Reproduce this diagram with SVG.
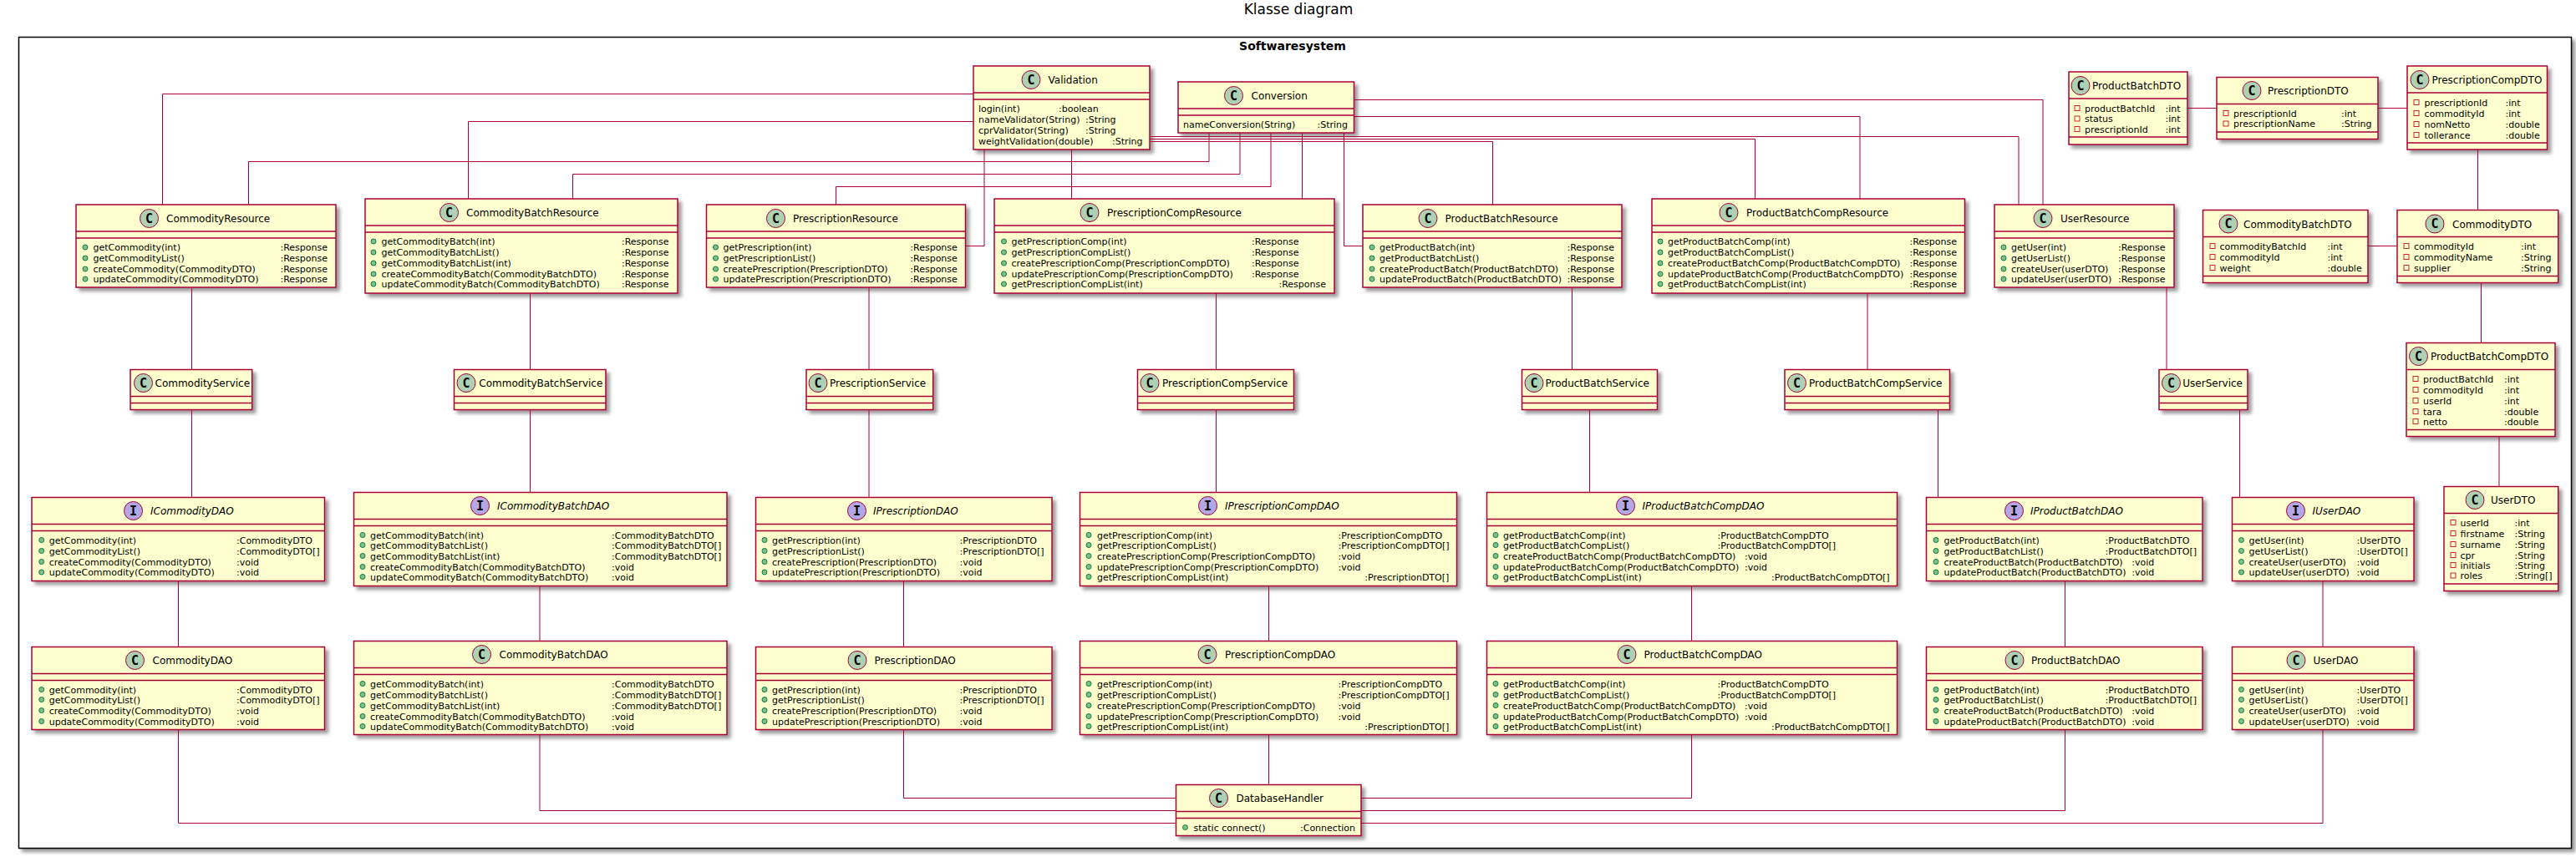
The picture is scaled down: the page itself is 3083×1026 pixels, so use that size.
<svg xmlns="http://www.w3.org/2000/svg" width="3083" height="1026" viewBox="0 0 3083 1026">
<style>
text{font-family:"DejaVu Sans",sans-serif;fill:#000}
.m{font-size:11px}
.n{font-size:12px}
.i{font-style:italic}
.k{font-family:"DejaVu Sans Mono",monospace;font-size:15px;font-weight:bold;text-anchor:middle}
.b{fill:#FEFECE;stroke:#A80036;stroke-width:1.5;filter:url(#s)}
.l{stroke:#A80036;stroke-width:1.5}
.cc{fill:#ADD1B2;stroke:#A80036;stroke-width:1}
.ci{fill:#B4A7E5;stroke:#A80036;stroke-width:1}
.g{fill:#84BE84;stroke:#038048;stroke-width:1}
.r{fill:none;stroke:#C82930;stroke-width:1}
#connectors path{fill:none;stroke:#A80036;stroke-width:1}
</style>
<defs>
<filter id="s" x="-5%" y="-5%" width="115%" height="120%"><feGaussianBlur in="SourceAlpha" stdDeviation="2"/><feOffset dx="4" dy="4"/><feComponentTransfer><feFuncA type="linear" slope="0.4"/></feComponentTransfer><feMerge><feMergeNode/><feMergeNode in="SourceGraphic"/></feMerge></filter>
<circle id="cg" r="11" class="cc"/>
<circle id="ig" r="11" class="ci"/>
<circle id="pub" r="3" class="g"/>
<rect id="pri" x="-3" y="-3" width="6" height="6" class="r"/>
</defs>
<rect width="3083" height="1026" fill="#fff"/>
<text x="1554" y="17" font-size="17" text-anchor="middle">Klasse diagram</text>
<g id="frame">
<rect x="22.5" y="44.5" width="3055" height="971" fill="#fff" stroke="#000" stroke-width="1.5" filter="url(#s)"/>
<text x="1547" y="60" font-size="14" font-weight="bold" text-anchor="middle">Softwaresystem</text>
</g>

<g id="Validation">
<rect class="b" x="1165" y="79" width="211" height="100"/><path class="l" d="M1165 111H1376M1165 119H1376"/>
<use href="#cg" x="1234" y="95.5"/><text class="k" x="1234" y="100.5">C</text><text class="n" x="1254.5" y="100">Validation</text>
<text class="m" y="134"><tspan x="1171">login(int)</tspan><tspan x="1267">:boolean</tspan></text>
<text class="m" y="147"><tspan x="1171">nameValidator(String)</tspan><tspan x="1299">:String</tspan></text>
<text class="m" y="160"><tspan x="1171">cprValidator(String)</tspan><tspan x="1299">:String</tspan></text>
<text class="m" y="173"><tspan x="1171">weightValidation(double)</tspan><tspan x="1331">:String</tspan></text>
</g>
<g id="Conversion">
<rect class="b" x="1410" y="98" width="210.5" height="61"/><path class="l" d="M1410 130H1620.5M1410 138H1620.5"/>
<use href="#cg" x="1476.5" y="114.5"/><text class="k" x="1476.5" y="119.5">C</text><text class="n" x="1497.5" y="119">Conversion</text>
<text class="m" y="153"><tspan x="1416">nameConversion(String)</tspan><tspan x="1576.5">:String</tspan></text>
</g>

<g id="CommodityResource">
<rect class="b" x="91" y="245" width="311" height="99"/><path class="l" d="M91 277H402M91 285H402"/>
<use href="#cg" x="178.5" y="261.5"/><text class="k" x="178.5" y="266.5">C</text><text class="n" x="199" y="266">CommodityResource</text>
<use href="#pub" x="102" y="296"/><text class="m" y="300"><tspan x="111.5">getCommodity(int)</tspan><tspan x="335.5">:Response</tspan></text>
<use href="#pub" x="102" y="309"/><text class="m" y="313"><tspan x="111.5">getCommodityList()</tspan><tspan x="335.5">:Response</tspan></text>
<use href="#pub" x="102" y="322"/><text class="m" y="326"><tspan x="111.5">createCommodity(CommodityDTO)</tspan><tspan x="335.5">:Response</tspan></text>
<use href="#pub" x="102" y="334"/><text class="m" y="338"><tspan x="111.5">updateCommodity(CommodityDTO)</tspan><tspan x="335.5">:Response</tspan></text>
</g>
<g id="CommodityBatchResource">
<rect class="b" x="437" y="238" width="374" height="113"/><path class="l" d="M437 270H811M437 278H811"/>
<use href="#cg" x="537.5" y="254.5"/><text class="k" x="537.5" y="259.5">C</text><text class="n" x="558" y="259">CommodityBatchResource</text>
<use href="#pub" x="447" y="289"/><text class="m" y="293"><tspan x="456.5">getCommodityBatch(int)</tspan><tspan x="744">:Response</tspan></text>
<use href="#pub" x="447" y="302"/><text class="m" y="306"><tspan x="456.5">getCommodityBatchList()</tspan><tspan x="744">:Response</tspan></text>
<use href="#pub" x="447" y="315"/><text class="m" y="319"><tspan x="456.5">getCommodityBatchList(int)</tspan><tspan x="744">:Response</tspan></text>
<use href="#pub" x="447" y="328"/><text class="m" y="332"><tspan x="456.5">createCommodityBatch(CommodityBatchDTO)</tspan><tspan x="744">:Response</tspan></text>
<use href="#pub" x="447" y="340"/><text class="m" y="344"><tspan x="456.5">updateCommodityBatch(CommodityBatchDTO)</tspan><tspan x="744">:Response</tspan></text>
</g>
<g id="PrescriptionResource">
<rect class="b" x="845.5" y="245" width="310" height="99"/><path class="l" d="M845.5 277H1155.5M845.5 285H1155.5"/>
<use href="#cg" x="928.5" y="261.5"/><text class="k" x="928.5" y="266.5">C</text><text class="n" x="949" y="266">PrescriptionResource</text>
<use href="#pub" x="856.5" y="296"/><text class="m" y="300"><tspan x="865.5">getPrescription(int)</tspan><tspan x="1089.3">:Response</tspan></text>
<use href="#pub" x="856.5" y="309"/><text class="m" y="313"><tspan x="865.5">getPrescriptionList()</tspan><tspan x="1089.3">:Response</tspan></text>
<use href="#pub" x="856.5" y="322"/><text class="m" y="326"><tspan x="865.5">createPrescription(PrescriptionDTO)</tspan><tspan x="1089.3">:Response</tspan></text>
<use href="#pub" x="856.5" y="334"/><text class="m" y="338"><tspan x="865.5">updatePrescription(PrescriptionDTO)</tspan><tspan x="1089.3">:Response</tspan></text>
</g>
<g id="PrescriptionCompResource">
<rect class="b" x="1190" y="238" width="407" height="113"/><path class="l" d="M1190 270H1597M1190 278H1597"/>
<use href="#cg" x="1304" y="254.5"/><text class="k" x="1304" y="259.5">C</text><text class="n" x="1325" y="259">PrescriptionCompResource</text>
<use href="#pub" x="1201.5" y="289"/><text class="m" y="293"><tspan x="1210.5">getPrescriptionComp(int)</tspan><tspan x="1498">:Response</tspan></text>
<use href="#pub" x="1201.5" y="302"/><text class="m" y="306"><tspan x="1210.5">getPrescriptionCompList()</tspan><tspan x="1498">:Response</tspan></text>
<use href="#pub" x="1201.5" y="315"/><text class="m" y="319"><tspan x="1210.5">createPrescriptionComp(PrescriptionCompDTO)</tspan><tspan x="1498">:Response</tspan></text>
<use href="#pub" x="1201.5" y="328"/><text class="m" y="332"><tspan x="1210.5">updatePrescriptionComp(PrescriptionCompDTO)</tspan><tspan x="1498">:Response</tspan></text>
<use href="#pub" x="1201.5" y="340"/><text class="m" y="344"><tspan x="1210.5">getPrescriptionCompList(int)</tspan><tspan x="1530.5">:Response</tspan></text>
</g>
<g id="ProductBatchResource">
<rect class="b" x="1631" y="245" width="310" height="99"/><path class="l" d="M1631 277H1941M1631 285H1941"/>
<use href="#cg" x="1709" y="261.5"/><text class="k" x="1709" y="266.5">C</text><text class="n" x="1729.5" y="266">ProductBatchResource</text>
<use href="#pub" x="1642" y="296"/><text class="m" y="300"><tspan x="1651">getProductBatch(int)</tspan><tspan x="1875.5">:Response</tspan></text>
<use href="#pub" x="1642" y="309"/><text class="m" y="313"><tspan x="1651">getProductBatchList()</tspan><tspan x="1875.5">:Response</tspan></text>
<use href="#pub" x="1642" y="322"/><text class="m" y="326"><tspan x="1651">createProductBatch(ProductBatchDTO)</tspan><tspan x="1875.5">:Response</tspan></text>
<use href="#pub" x="1642" y="334"/><text class="m" y="338"><tspan x="1651">updateProductBatch(ProductBatchDTO)</tspan><tspan x="1875.5">:Response</tspan></text>
</g>
<g id="ProductBatchCompResource">
<rect class="b" x="1977" y="238" width="374.5" height="113"/><path class="l" d="M1977 270H2351.5M1977 278H2351.5"/>
<use href="#cg" x="2069" y="254.5"/><text class="k" x="2069" y="259.5">C</text><text class="n" x="2090" y="259">ProductBatchCompResource</text>
<use href="#pub" x="1987" y="289"/><text class="m" y="293"><tspan x="1996">getProductBatchComp(int)</tspan><tspan x="2285.5">:Response</tspan></text>
<use href="#pub" x="1987" y="302"/><text class="m" y="306"><tspan x="1996">getProductBatchCompList()</tspan><tspan x="2285.5">:Response</tspan></text>
<use href="#pub" x="1987" y="315"/><text class="m" y="319"><tspan x="1996">createProductBatchComp(ProductBatchCompDTO)</tspan><tspan x="2285.5">:Response</tspan></text>
<use href="#pub" x="1987" y="328"/><text class="m" y="332"><tspan x="1996">updateProductBatchComp(ProductBatchCompDTO)</tspan><tspan x="2285.5">:Response</tspan></text>
<use href="#pub" x="1987" y="340"/><text class="m" y="344"><tspan x="1996">getProductBatchCompList(int)</tspan><tspan x="2285.5">:Response</tspan></text>
</g>
<g id="UserResource">
<rect class="b" x="2387" y="245" width="215" height="99"/><path class="l" d="M2387 277H2602M2387 285H2602"/>
<use href="#cg" x="2445" y="261.5"/><text class="k" x="2445" y="266.5">C</text><text class="n" x="2466" y="266">UserResource</text>
<use href="#pub" x="2398" y="296"/><text class="m" y="300"><tspan x="2407">getUser(int)</tspan><tspan x="2535">:Response</tspan></text>
<use href="#pub" x="2398" y="309"/><text class="m" y="313"><tspan x="2407">getUserList()</tspan><tspan x="2535">:Response</tspan></text>
<use href="#pub" x="2398" y="322"/><text class="m" y="326"><tspan x="2407">createUser(userDTO)</tspan><tspan x="2535">:Response</tspan></text>
<use href="#pub" x="2398" y="334"/><text class="m" y="338"><tspan x="2407">updateUser(userDTO)</tspan><tspan x="2535">:Response</tspan></text>
</g>

<g id="ProductBatchDTO">
<rect class="b" x="2476" y="86" width="142" height="87"/><path class="l" d="M2476 118H2618M2476 164H2618"/>
<use href="#cg" x="2490" y="102.5"/><text class="k" x="2490" y="107.5">C</text><text class="n" x="2504" y="107">ProductBatchDTO</text>
<use href="#pri" x="2486" y="129.5"/><text class="m" y="133.5"><tspan x="2495">productBatchId</tspan><tspan x="2591.5">:int</tspan></text>
<use href="#pri" x="2486" y="142"/><text class="m" y="146"><tspan x="2495">status</tspan><tspan x="2591.5">:int</tspan></text>
<use href="#pri" x="2486" y="154.5"/><text class="m" y="158.5"><tspan x="2495">prescriptionId</tspan><tspan x="2591.5">:int</tspan></text>
</g>
<g id="PrescriptionDTO">
<rect class="b" x="2653" y="92.5" width="193" height="74"/><path class="l" d="M2653 124.5H2846M2653 158H2846"/>
<use href="#cg" x="2695" y="108.5"/><text class="k" x="2695" y="113.5">C</text><text class="n" x="2714" y="113">PrescriptionDTO</text>
<use href="#pri" x="2664" y="135.5"/><text class="m" y="139.5"><tspan x="2673">prescriptionId</tspan><tspan x="2802">:int</tspan></text>
<use href="#pri" x="2664" y="148"/><text class="m" y="152"><tspan x="2673">prescriptionName</tspan><tspan x="2802">:String</tspan></text>
</g>
<g id="PrescriptionCompDTO">
<rect class="b" x="2881" y="79" width="167.5" height="100"/><path class="l" d="M2881 111H3048.5M2881 171H3048.5"/>
<use href="#cg" x="2896" y="95.5"/><text class="k" x="2896" y="100.5">C</text><text class="n" x="2910.5" y="100">PrescriptionCompDTO</text>
<use href="#pri" x="2892" y="122.5"/><text class="m" y="126.5"><tspan x="2901.5">prescriptionId</tspan><tspan x="2998.5">:int</tspan></text>
<use href="#pri" x="2892" y="135.5"/><text class="m" y="139.5"><tspan x="2901.5">commodityId</tspan><tspan x="2998.5">:int</tspan></text>
<use href="#pri" x="2892" y="148.5"/><text class="m" y="152.5"><tspan x="2901.5">nomNetto</tspan><tspan x="2998.5">:double</tspan></text>
<use href="#pri" x="2892" y="161.5"/><text class="m" y="165.5"><tspan x="2901.5">tollerance</tspan><tspan x="2998.5">:double</tspan></text>
</g>
<g id="CommodityBatchDTO">
<rect class="b" x="2636.5" y="251.5" width="197.5" height="87"/><path class="l" d="M2636.5 283.5H2834M2636.5 330.5H2834"/>
<use href="#cg" x="2667" y="268"/><text class="k" x="2667" y="273">C</text><text class="n" x="2685" y="272.5">CommodityBatchDTO</text>
<use href="#pri" x="2648" y="294.5"/><text class="m" y="298.5"><tspan x="2656.5">commodityBatchId</tspan><tspan x="2785.5">:int</tspan></text>
<use href="#pri" x="2648" y="307.5"/><text class="m" y="311.5"><tspan x="2656.5">commodityId</tspan><tspan x="2785.5">:int</tspan></text>
<use href="#pri" x="2648" y="320.5"/><text class="m" y="324.5"><tspan x="2656.5">weight</tspan><tspan x="2785.5">:double</tspan></text>
</g>
<g id="CommodityDTO">
<rect class="b" x="2869" y="251.5" width="192.7" height="87"/><path class="l" d="M2869 283.5H3061.7M2869 330.5H3061.7"/>
<use href="#cg" x="2914" y="268"/><text class="k" x="2914" y="273">C</text><text class="n" x="2935" y="272.5">CommodityDTO</text>
<use href="#pri" x="2880" y="294.5"/><text class="m" y="298.5"><tspan x="2889">commodityId</tspan><tspan x="3017">:int</tspan></text>
<use href="#pri" x="2880" y="307.5"/><text class="m" y="311.5"><tspan x="2889">commodityName</tspan><tspan x="3017">:String</tspan></text>
<use href="#pri" x="2880" y="320.5"/><text class="m" y="324.5"><tspan x="2889">supplier</tspan><tspan x="3017">:String</tspan></text>
</g>
<g id="ProductBatchCompDTO">
<rect class="b" x="2880" y="410.5" width="178" height="112"/><path class="l" d="M2880 442.5H3058M2880 514.5H3058"/>
<use href="#cg" x="2894.5" y="426.5"/><text class="k" x="2894.5" y="431.5">C</text><text class="n" x="2909" y="431">ProductBatchCompDTO</text>
<use href="#pri" x="2891" y="453.5"/><text class="m" y="457.5"><tspan x="2900">productBatchId</tspan><tspan x="2997">:int</tspan></text>
<use href="#pri" x="2891" y="466.5"/><text class="m" y="470.5"><tspan x="2900">commodityId</tspan><tspan x="2997">:int</tspan></text>
<use href="#pri" x="2891" y="479.5"/><text class="m" y="483.5"><tspan x="2900">userId</tspan><tspan x="2997">:int</tspan></text>
<use href="#pri" x="2891" y="492.5"/><text class="m" y="496.5"><tspan x="2900">tara</tspan><tspan x="2997">:double</tspan></text>
<use href="#pri" x="2891" y="504.5"/><text class="m" y="508.5"><tspan x="2900">netto</tspan><tspan x="2997">:double</tspan></text>
</g>
<g id="UserDTO">
<rect class="b" x="2925" y="582.5" width="136.7" height="125"/><path class="l" d="M2925 614.5H3061.7M2925 699H3061.7"/>
<use href="#cg" x="2962" y="598.5"/><text class="k" x="2962" y="603.5">C</text><text class="n" x="2981" y="603">UserDTO</text>
<use href="#pri" x="2936" y="625.5"/><text class="m" y="629.5"><tspan x="2944.5">userId</tspan><tspan x="3009.5">:int</tspan></text>
<use href="#pri" x="2936" y="638.5"/><text class="m" y="642.5"><tspan x="2944.5">firstname</tspan><tspan x="3009.5">:String</tspan></text>
<use href="#pri" x="2936" y="651.5"/><text class="m" y="655.5"><tspan x="2944.5">surname</tspan><tspan x="3009.5">:String</tspan></text>
<use href="#pri" x="2936" y="664.5"/><text class="m" y="668.5"><tspan x="2944.5">cpr</tspan><tspan x="3009.5">:String</tspan></text>
<use href="#pri" x="2936" y="676.5"/><text class="m" y="680.5"><tspan x="2944.5">initials</tspan><tspan x="3009.5">:String</tspan></text>
<use href="#pri" x="2936" y="689"/><text class="m" y="693"><tspan x="2944.5">roles</tspan><tspan x="3009.5">:String[]</tspan></text>
</g>

<g id="CommodityService"><rect class="b" x="156" y="442.5" width="145.7" height="48"/><path class="l" d="M156 474.5H301.7M156 482.5H301.7"/><use href="#cg" x="171.5" y="458.5"/><text class="k" x="171.5" y="463.5">C</text><text class="n" x="185.5" y="463">CommodityService</text></g>
<g id="CommodityBatchService"><rect class="b" x="543.5" y="442.5" width="181.5" height="48"/><path class="l" d="M543.5 474.5H725M543.5 482.5H725"/><use href="#cg" x="558" y="458.5"/><text class="k" x="558" y="463.5">C</text><text class="n" x="573.3" y="463">CommodityBatchService</text></g>
<g id="PrescriptionService"><rect class="b" x="965" y="442.5" width="151.7" height="48"/><path class="l" d="M965 474.5H1116.7M965 482.5H1116.7"/><use href="#cg" x="979" y="458.5"/><text class="k" x="979" y="463.5">C</text><text class="n" x="993" y="463">PrescriptionService</text></g>
<g id="PrescriptionCompService"><rect class="b" x="1361.5" y="442.5" width="187" height="48"/><path class="l" d="M1361.5 474.5H1548.5M1361.5 482.5H1548.5"/><use href="#cg" x="1376" y="458.5"/><text class="k" x="1376" y="463.5">C</text><text class="n" x="1391" y="463">PrescriptionCompService</text></g>
<g id="ProductBatchService"><rect class="b" x="1821.5" y="442.5" width="162" height="48"/><path class="l" d="M1821.5 474.5H1983.5M1821.5 482.5H1983.5"/><use href="#cg" x="1836" y="458.5"/><text class="k" x="1836" y="463.5">C</text><text class="n" x="1849.5" y="463">ProductBatchService</text></g>
<g id="ProductBatchCompService"><rect class="b" x="2136" y="442.5" width="197.5" height="48"/><path class="l" d="M2136 474.5H2333.5M2136 482.5H2333.5"/><use href="#cg" x="2150.5" y="458.5"/><text class="k" x="2150.5" y="463.5">C</text><text class="n" x="2165" y="463">ProductBatchCompService</text></g>
<g id="UserService"><rect class="b" x="2584" y="442.5" width="106" height="48"/><path class="l" d="M2584 474.5H2690M2584 482.5H2690"/><use href="#cg" x="2598.5" y="458.5"/><text class="k" x="2598.5" y="463.5">C</text><text class="n" x="2612.3" y="463">UserService</text></g>

<g id="ICommodityDAO">
<rect class="b" x="38" y="595.5" width="350.5" height="100"/><path class="l" d="M38 627.5H388.5M38 635.5H388.5"/>
<use href="#ig" x="159.5" y="611.5"/><text class="k" x="159.5" y="616.5">I</text><text class="n i" x="180" y="616">ICommodityDAO</text>
<use href="#pub" x="49.7" y="646.5"/><text class="m" y="650.5"><tspan x="58.7">getCommodity(int)</tspan><tspan x="283">:CommodityDTO</tspan></text>
<use href="#pub" x="49.7" y="659.5"/><text class="m" y="663.5"><tspan x="58.7">getCommodityList()</tspan><tspan x="283">:CommodityDTO[]</tspan></text>
<use href="#pub" x="49.7" y="672.5"/><text class="m" y="676.5"><tspan x="58.7">createCommodity(CommodityDTO)</tspan><tspan x="283">:void</tspan></text>
<use href="#pub" x="49.7" y="685"/><text class="m" y="689"><tspan x="58.7">updateCommodity(CommodityDTO)</tspan><tspan x="283">:void</tspan></text>
</g>
<g id="ICommodityBatchDAO">
<rect class="b" x="423.5" y="589.5" width="446.5" height="112"/><path class="l" d="M423.5 621.5H870M423.5 629.5H870"/>
<use href="#ig" x="574.5" y="605.5"/><text class="k" x="574.5" y="610.5">I</text><text class="n i" x="595" y="610">ICommodityBatchDAO</text>
<use href="#pub" x="434" y="640.5"/><text class="m" y="644.5"><tspan x="443">getCommodityBatch(int)</tspan><tspan x="732">:CommodityBatchDTO</tspan></text>
<use href="#pub" x="434" y="652.5"/><text class="m" y="656.5"><tspan x="443">getCommodityBatchList()</tspan><tspan x="732">:CommodityBatchDTO[]</tspan></text>
<use href="#pub" x="434" y="665.5"/><text class="m" y="669.5"><tspan x="443">getCommodityBatchList(int)</tspan><tspan x="732">:CommodityBatchDTO[]</tspan></text>
<use href="#pub" x="434" y="678.5"/><text class="m" y="682.5"><tspan x="443">createCommodityBatch(CommodityBatchDTO)</tspan><tspan x="732">:void</tspan></text>
<use href="#pub" x="434" y="690.5"/><text class="m" y="694.5"><tspan x="443">updateCommodityBatch(CommodityBatchDTO)</tspan><tspan x="732">:void</tspan></text>
</g>
<g id="IPrescriptionDAO">
<rect class="b" x="904.5" y="595.5" width="354.5" height="100"/><path class="l" d="M904.5 627.5H1259M904.5 635.5H1259"/>
<use href="#ig" x="1025.5" y="611.5"/><text class="k" x="1025.5" y="616.5">I</text><text class="n i" x="1045" y="616">IPrescriptionDAO</text>
<use href="#pub" x="915" y="646.5"/><text class="m" y="650.5"><tspan x="924">getPrescription(int)</tspan><tspan x="1148.5">:PrescriptionDTO</tspan></text>
<use href="#pub" x="915" y="659.5"/><text class="m" y="663.5"><tspan x="924">getPrescriptionList()</tspan><tspan x="1148.5">:PrescriptionDTO[]</tspan></text>
<use href="#pub" x="915" y="672.5"/><text class="m" y="676.5"><tspan x="924">createPrescription(PrescriptionDTO)</tspan><tspan x="1148.5">:void</tspan></text>
<use href="#pub" x="915" y="685"/><text class="m" y="689"><tspan x="924">updatePrescription(PrescriptionDTO)</tspan><tspan x="1148.5">:void</tspan></text>
</g>
<g id="IPrescriptionCompDAO">
<rect class="b" x="1292.5" y="589.5" width="451" height="112"/><path class="l" d="M1292.5 621.5H1743.5M1292.5 629.5H1743.5"/>
<use href="#ig" x="1445.5" y="605.5"/><text class="k" x="1445.5" y="610.5">I</text><text class="n i" x="1466" y="610">IPrescriptionCompDAO</text>
<use href="#pub" x="1303" y="640.5"/><text class="m" y="644.5"><tspan x="1313">getPrescriptionComp(int)</tspan><tspan x="1601.5">:PrescriptionCompDTO</tspan></text>
<use href="#pub" x="1303" y="652.5"/><text class="m" y="656.5"><tspan x="1313">getPrescriptionCompList()</tspan><tspan x="1601.5">:PrescriptionCompDTO[]</tspan></text>
<use href="#pub" x="1303" y="665.5"/><text class="m" y="669.5"><tspan x="1313">createPrescriptionComp(PrescriptionCompDTO)</tspan><tspan x="1601.5">:void</tspan></text>
<use href="#pub" x="1303" y="678.5"/><text class="m" y="682.5"><tspan x="1313">updatePrescriptionComp(PrescriptionCompDTO)</tspan><tspan x="1601.5">:void</tspan></text>
<use href="#pub" x="1303" y="690.5"/><text class="m" y="694.5"><tspan x="1313">getPrescriptionCompList(int)</tspan><tspan x="1633.3">:PrescriptionDTO[]</tspan></text>
</g>
<g id="IProductBatchCompDAO">
<rect class="b" x="1779.5" y="589.5" width="491" height="112"/><path class="l" d="M1779.5 621.5H2270.5M1779.5 629.5H2270.5"/>
<use href="#ig" x="1945.5" y="605.5"/><text class="k" x="1945.5" y="610.5">I</text><text class="n i" x="1965.5" y="610">IProductBatchCompDAO</text>
<use href="#pub" x="1790" y="640.5"/><text class="m" y="644.5"><tspan x="1799">getProductBatchComp(int)</tspan><tspan x="2055.5">:ProductBatchCompDTO</tspan></text>
<use href="#pub" x="1790" y="652.5"/><text class="m" y="656.5"><tspan x="1799">getProductBatchCompList()</tspan><tspan x="2055.5">:ProductBatchCompDTO[]</tspan></text>
<use href="#pub" x="1790" y="665.5"/><text class="m" y="669.5"><tspan x="1799">createProductBatchComp(ProductBatchCompDTO)</tspan><tspan x="2088">:void</tspan></text>
<use href="#pub" x="1790" y="678.5"/><text class="m" y="682.5"><tspan x="1799">updateProductBatchComp(ProductBatchCompDTO)</tspan><tspan x="2088">:void</tspan></text>
<use href="#pub" x="1790" y="690.5"/><text class="m" y="694.5"><tspan x="1799">getProductBatchCompList(int)</tspan><tspan x="2120">:ProductBatchCompDTO[]</tspan></text>
</g>
<g id="IProductBatchDAO">
<rect class="b" x="2305.5" y="595.5" width="330.5" height="100"/><path class="l" d="M2305.5 627.5H2636M2305.5 635.5H2636"/>
<use href="#ig" x="2410.5" y="611.5"/><text class="k" x="2410.5" y="616.5">I</text><text class="n i" x="2430" y="616">IProductBatchDAO</text>
<use href="#pub" x="2317" y="646.5"/><text class="m" y="650.5"><tspan x="2326.5">getProductBatch(int)</tspan><tspan x="2519.5">:ProductBatchDTO</tspan></text>
<use href="#pub" x="2317" y="659.5"/><text class="m" y="663.5"><tspan x="2326.5">getProductBatchList()</tspan><tspan x="2519.5">:ProductBatchDTO[]</tspan></text>
<use href="#pub" x="2317" y="672.5"/><text class="m" y="676.5"><tspan x="2326.5">createProductBatch(ProductBatchDTO)</tspan><tspan x="2551.3">:void</tspan></text>
<use href="#pub" x="2317" y="685"/><text class="m" y="689"><tspan x="2326.5">updateProductBatch(ProductBatchDTO)</tspan><tspan x="2551.3">:void</tspan></text>
</g>
<g id="IUserDAO">
<rect class="b" x="2671.5" y="595.5" width="217.5" height="100"/><path class="l" d="M2671.5 627.5H2889M2671.5 635.5H2889"/>
<use href="#ig" x="2747.5" y="611.5"/><text class="k" x="2747.5" y="616.5">I</text><text class="n i" x="2767.5" y="616">IUserDAO</text>
<use href="#pub" x="2682.5" y="646.5"/><text class="m" y="650.5"><tspan x="2691.5">getUser(int)</tspan><tspan x="2820.5">:UserDTO</tspan></text>
<use href="#pub" x="2682.5" y="659.5"/><text class="m" y="663.5"><tspan x="2691.5">getUserList()</tspan><tspan x="2820.5">:UserDTO[]</tspan></text>
<use href="#pub" x="2682.5" y="672.5"/><text class="m" y="676.5"><tspan x="2691.5">createUser(userDTO)</tspan><tspan x="2820.5">:void</tspan></text>
<use href="#pub" x="2682.5" y="685"/><text class="m" y="689"><tspan x="2691.5">updateUser(userDTO)</tspan><tspan x="2820.5">:void</tspan></text>
</g>

<g id="CommodityDAO">
<rect class="b" x="38" y="774.5" width="350.5" height="99"/><path class="l" d="M38 806.5H388.5M38 814.5H388.5"/>
<use href="#cg" x="161.5" y="790.5"/><text class="k" x="161.5" y="795.5">C</text><text class="n" x="182.5" y="795">CommodityDAO</text>
<use href="#pub" x="49.7" y="825.5"/><text class="m" y="829.5"><tspan x="58.7">getCommodity(int)</tspan><tspan x="283">:CommodityDTO</tspan></text>
<use href="#pub" x="49.7" y="837.5"/><text class="m" y="841.5"><tspan x="58.7">getCommodityList()</tspan><tspan x="283">:CommodityDTO[]</tspan></text>
<use href="#pub" x="49.7" y="850.5"/><text class="m" y="854.5"><tspan x="58.7">createCommodity(CommodityDTO)</tspan><tspan x="283">:void</tspan></text>
<use href="#pub" x="49.7" y="863.5"/><text class="m" y="867.5"><tspan x="58.7">updateCommodity(CommodityDTO)</tspan><tspan x="283">:void</tspan></text>
</g>
<g id="CommodityBatchDAO">
<rect class="b" x="423.5" y="767.5" width="446.5" height="112"/><path class="l" d="M423.5 799.5H870M423.5 807.5H870"/>
<use href="#cg" x="576.5" y="783.5"/><text class="k" x="576.5" y="788.5">C</text><text class="n" x="597.5" y="788">CommodityBatchDAO</text>
<use href="#pub" x="434" y="818.5"/><text class="m" y="822.5"><tspan x="443">getCommodityBatch(int)</tspan><tspan x="732">:CommodityBatchDTO</tspan></text>
<use href="#pub" x="434" y="831.5"/><text class="m" y="835.5"><tspan x="443">getCommodityBatchList()</tspan><tspan x="732">:CommodityBatchDTO[]</tspan></text>
<use href="#pub" x="434" y="844.5"/><text class="m" y="848.5"><tspan x="443">getCommodityBatchList(int)</tspan><tspan x="732">:CommodityBatchDTO[]</tspan></text>
<use href="#pub" x="434" y="857.5"/><text class="m" y="861.5"><tspan x="443">createCommodityBatch(CommodityBatchDTO)</tspan><tspan x="732">:void</tspan></text>
<use href="#pub" x="434" y="869.5"/><text class="m" y="873.5"><tspan x="443">updateCommodityBatch(CommodityBatchDTO)</tspan><tspan x="732">:void</tspan></text>
</g>
<g id="PrescriptionDAO">
<rect class="b" x="904.5" y="774.5" width="354.5" height="99"/><path class="l" d="M904.5 806.5H1259M904.5 814.5H1259"/>
<use href="#cg" x="1026" y="790.5"/><text class="k" x="1026" y="795.5">C</text><text class="n" x="1046.5" y="795">PrescriptionDAO</text>
<use href="#pub" x="915" y="825.5"/><text class="m" y="829.5"><tspan x="924">getPrescription(int)</tspan><tspan x="1148.5">:PrescriptionDTO</tspan></text>
<use href="#pub" x="915" y="837.5"/><text class="m" y="841.5"><tspan x="924">getPrescriptionList()</tspan><tspan x="1148.5">:PrescriptionDTO[]</tspan></text>
<use href="#pub" x="915" y="850.5"/><text class="m" y="854.5"><tspan x="924">createPrescription(PrescriptionDTO)</tspan><tspan x="1148.5">:void</tspan></text>
<use href="#pub" x="915" y="863.5"/><text class="m" y="867.5"><tspan x="924">updatePrescription(PrescriptionDTO)</tspan><tspan x="1148.5">:void</tspan></text>
</g>
<g id="PrescriptionCompDAO">
<rect class="b" x="1292.5" y="767.5" width="451" height="112"/><path class="l" d="M1292.5 799.5H1743.5M1292.5 807.5H1743.5"/>
<use href="#cg" x="1445" y="783.5"/><text class="k" x="1445" y="788.5">C</text><text class="n" x="1466" y="788">PrescriptionCompDAO</text>
<use href="#pub" x="1303" y="818.5"/><text class="m" y="822.5"><tspan x="1313">getPrescriptionComp(int)</tspan><tspan x="1601.5">:PrescriptionCompDTO</tspan></text>
<use href="#pub" x="1303" y="831.5"/><text class="m" y="835.5"><tspan x="1313">getPrescriptionCompList()</tspan><tspan x="1601.5">:PrescriptionCompDTO[]</tspan></text>
<use href="#pub" x="1303" y="844.5"/><text class="m" y="848.5"><tspan x="1313">createPrescriptionComp(PrescriptionCompDTO)</tspan><tspan x="1601.5">:void</tspan></text>
<use href="#pub" x="1303" y="857.5"/><text class="m" y="861.5"><tspan x="1313">updatePrescriptionComp(PrescriptionCompDTO)</tspan><tspan x="1601.5">:void</tspan></text>
<use href="#pub" x="1303" y="869.5"/><text class="m" y="873.5"><tspan x="1313">getPrescriptionCompList(int)</tspan><tspan x="1633.3">:PrescriptionDTO[]</tspan></text>
</g>
<g id="ProductBatchCompDAO">
<rect class="b" x="1779.5" y="767.5" width="491" height="112"/><path class="l" d="M1779.5 799.5H2270.5M1779.5 807.5H2270.5"/>
<use href="#cg" x="1947" y="783.5"/><text class="k" x="1947" y="788.5">C</text><text class="n" x="1967.5" y="788">ProductBatchCompDAO</text>
<use href="#pub" x="1790" y="818.5"/><text class="m" y="822.5"><tspan x="1799">getProductBatchComp(int)</tspan><tspan x="2055.5">:ProductBatchCompDTO</tspan></text>
<use href="#pub" x="1790" y="831.5"/><text class="m" y="835.5"><tspan x="1799">getProductBatchCompList()</tspan><tspan x="2055.5">:ProductBatchCompDTO[]</tspan></text>
<use href="#pub" x="1790" y="844.5"/><text class="m" y="848.5"><tspan x="1799">createProductBatchComp(ProductBatchCompDTO)</tspan><tspan x="2088">:void</tspan></text>
<use href="#pub" x="1790" y="857.5"/><text class="m" y="861.5"><tspan x="1799">updateProductBatchComp(ProductBatchCompDTO)</tspan><tspan x="2088">:void</tspan></text>
<use href="#pub" x="1790" y="869.5"/><text class="m" y="873.5"><tspan x="1799">getProductBatchCompList(int)</tspan><tspan x="2120">:ProductBatchCompDTO[]</tspan></text>
</g>
<g id="ProductBatchDAO">
<rect class="b" x="2305.5" y="774.5" width="330.5" height="99"/><path class="l" d="M2305.5 806.5H2636M2305.5 814.5H2636"/>
<use href="#cg" x="2411" y="790.5"/><text class="k" x="2411" y="795.5">C</text><text class="n" x="2431" y="795">ProductBatchDAO</text>
<use href="#pub" x="2317" y="825.5"/><text class="m" y="829.5"><tspan x="2326.5">getProductBatch(int)</tspan><tspan x="2519.5">:ProductBatchDTO</tspan></text>
<use href="#pub" x="2317" y="837.5"/><text class="m" y="841.5"><tspan x="2326.5">getProductBatchList()</tspan><tspan x="2519.5">:ProductBatchDTO[]</tspan></text>
<use href="#pub" x="2317" y="850.5"/><text class="m" y="854.5"><tspan x="2326.5">createProductBatch(ProductBatchDTO)</tspan><tspan x="2551.3">:void</tspan></text>
<use href="#pub" x="2317" y="863.5"/><text class="m" y="867.5"><tspan x="2326.5">updateProductBatch(ProductBatchDTO)</tspan><tspan x="2551.3">:void</tspan></text>
</g>
<g id="UserDAO">
<rect class="b" x="2671.5" y="774.5" width="217.5" height="99"/><path class="l" d="M2671.5 806.5H2889M2671.5 814.5H2889"/>
<use href="#cg" x="2748" y="790.5"/><text class="k" x="2748" y="795.5">C</text><text class="n" x="2768.5" y="795">UserDAO</text>
<use href="#pub" x="2682.5" y="825.5"/><text class="m" y="829.5"><tspan x="2691.5">getUser(int)</tspan><tspan x="2820.5">:UserDTO</tspan></text>
<use href="#pub" x="2682.5" y="837.5"/><text class="m" y="841.5"><tspan x="2691.5">getUserList()</tspan><tspan x="2820.5">:UserDTO[]</tspan></text>
<use href="#pub" x="2682.5" y="850.5"/><text class="m" y="854.5"><tspan x="2691.5">createUser(userDTO)</tspan><tspan x="2820.5">:void</tspan></text>
<use href="#pub" x="2682.5" y="863.5"/><text class="m" y="867.5"><tspan x="2691.5">updateUser(userDTO)</tspan><tspan x="2820.5">:void</tspan></text>
</g>
<g id="DatabaseHandler">
<rect class="b" x="1407.5" y="939.5" width="221.5" height="61"/><path class="l" d="M1407.5 971.5H1629M1407.5 979.5H1629"/>
<use href="#cg" x="1458.5" y="955.5"/><text class="k" x="1458.5" y="960.5">C</text><text class="n" x="1479.5" y="960">DatabaseHandler</text>
<use href="#pub" x="1418.5" y="990.5"/><text class="m" y="994.5"><tspan x="1428.5">static connect()</tspan><tspan x="1556">:Connection</tspan></text>
</g>

<g id="connectors">
<path d="M1165 112.5H194.5V245"/>
<path d="M1165 145.5H560.5V238"/>
<path d="M1447 159V193.5H297.5V245"/>
<path d="M1484 159V208.5H685.5V238"/>
<path d="M1521 159V223.5H1000.5V245"/>
<path d="M1558.5 159V238"/>
<path d="M1608.5 159V294.5H1631"/>
<path d="M1178 179V294.5H1155.5"/>
<path d="M1282.5 179V238"/>
<path d="M1376 169.5H1786.5V245"/>
<path d="M1376 166.5H2100.5V238"/>
<path d="M1376 163.5H2416V245"/>
<path d="M1620.5 139.5H2226V238"/>
<path d="M1620.5 119.5H2445V245"/>
<path d="M2618 129.5H2653"/>
<path d="M2846 129.5H2881"/>
<path d="M2965.5 179V251.5"/>
<path d="M2834 294.5H2869"/>
<path d="M2969.5 338.5V410.5"/>
<path d="M2991 522.5V582.5"/>
<path d="M229.5 344V442.5"/>
<path d="M229.5 490.5V595.5"/>
<path d="M213.5 695.5V774.5"/>
<path d="M213.5 873.5V985.5H1407.5"/>
<path d="M634.5 351V442.5"/>
<path d="M634.5 490.5V589.5"/>
<path d="M646 701.5V767.5"/>
<path d="M646 879.5V970.5H1407.5"/>
<path d="M1040 344V442.5"/>
<path d="M1040 490.5V595.5"/>
<path d="M1081.5 695.5V774.5"/>
<path d="M1081.5 873.5V955.5H1407.5"/>
<path d="M1455.5 351V442.5"/>
<path d="M1455.5 490.5V589.5"/>
<path d="M1518.5 701.5V767.5"/>
<path d="M1518.5 879.5V939.5"/>
<path d="M1881.5 344V442.5"/>
<path d="M1902.5 490.5V589.5"/>
<path d="M2024.5 701.5V767.5"/>
<path d="M2024.5 879.5V955.5H1629"/>
<path d="M2235 351V442.5"/>
<path d="M2319.5 490.5V595.5"/>
<path d="M2471.5 695.5V774.5"/>
<path d="M2471.5 873.5V970.5H1629"/>
<path d="M2593 344V442.5"/>
<path d="M2680.5 490.5V595.5"/>
<path d="M2780 695.5V774.5"/>
<path d="M2780 873.5V985.5H1629"/>
</g>
</svg>
